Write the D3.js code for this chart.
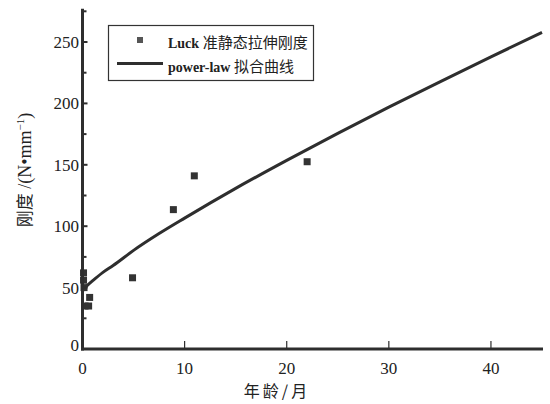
<!DOCTYPE html>
<html>
<head>
<meta charset="utf-8">
<script src="https://cdn.jsdelivr.net/npm/d3@7"></script>
<style>
  html, body { margin: 0; padding: 0; background: #fff; }
  svg { display: block; }
</style>
</head>
<body>
<svg id="chart" width="550" height="404"></svg>
<script>
// Luck quasi-static tensile stiffness measurements (age in months, stiffness in N/mm)
const ageMonths = [0.1, 0.1, 0.15, 0.25, 0.6, 0.7, 4.9, 8.9, 10.95, 22.0];
const stiffness = [62, 56, 50, 35, 35, 42, 58, 113.5, 141, 152.5];

// power-law fitted curve, sampled along the age axis
const fitAge = [0, 0.25, 0.5, 1, 2, 3, 5, 7.5, 10, 15, 20, 25, 30, 35, 40, 45];
const fitStiffness = [47, 50, 52, 55.6, 62.4, 68, 80.3, 94, 106.6, 130.8, 153.6, 175.6, 196.9, 217.6, 237.9, 257.8];

const xTicks = [0, 10, 20, 30, 40];
const yTicks = [0, 50, 100, 150, 200, 250];
const yMinorTicks = [25, 75, 125, 175, 225, 275];

const legendLabels = [
  { latin: "Luck", cjk: "准静态拉伸刚度" },
  { latin: "power-law", cjk: "拟合曲线" }
];
const xTitle = "年龄/月";
const yTitleCjk = "刚度";
const yTitleUnit = " /(N•mm";
const yTitleExp = "−1";

const ink = "#2e2e2e";
const serif = "'Liberation Serif', 'DejaVu Serif', serif";
const cjk = "'Noto Sans CJK SC', sans-serif";

const svg = d3.select("#chart");

const x = d3.scaleLinear().domain([0, 45]).range([82.5, 542]);
const y = d3.scaleLinear().domain([0, 250]).range([349, 42]);

// fitted curve
const line = d3.line()
  .x((d, i) => x(fitAge[i]))
  .y(d => y(d))
  .curve(d3.curveMonotoneX);
svg.append("path")
  .datum(fitStiffness)
  .attr("d", line)
  .attr("fill", "none")
  .attr("stroke", ink).attr("stroke-width", 3);

// measured points
const sq = 7;
svg.selectAll(".pt").data(stiffness).enter().append("rect")
  .attr("x", (d, i) => x(ageMonths[i]) - sq / 2)
  .attr("y", d => y(d) - sq / 2)
  .attr("width", sq).attr("height", sq)
  .attr("fill", "#333");

// axis lines
svg.append("line")
  .attr("x1", x(0)).attr("x2", x(0))
  .attr("y1", y(0) + 1.5).attr("y2", y(277))
  .attr("stroke", ink).attr("stroke-width", 3);
svg.append("line")
  .attr("x1", x(0) - 1.5).attr("x2", x(45) + 1)
  .attr("y1", y(0)).attr("y2", y(0))
  .attr("stroke", ink).attr("stroke-width", 3);

// y ticks point into the plot
svg.selectAll(".ytick").data(yTicks.filter(d => d > 0)).enter().append("line")
  .attr("x1", x(0)).attr("x2", x(0) + 5)
  .attr("y1", d => y(d)).attr("y2", d => y(d))
  .attr("stroke", ink).attr("stroke-width", 2);
svg.selectAll(".yminor").data(yMinorTicks).enter().append("line")
  .attr("x1", x(0)).attr("x2", x(0) + 4)
  .attr("y1", d => y(d)).attr("y2", d => y(d))
  .attr("stroke", ink).attr("stroke-width", 2);

// x ticks point up into the plot
svg.selectAll(".xtick").data(xTicks.filter(d => d > 0)).enter().append("line")
  .attr("x1", d => x(d)).attr("x2", d => x(d))
  .attr("y1", y(0)).attr("y2", y(0) - 8)
  .attr("stroke", ink).attr("stroke-width", 1.2);

// tick labels
svg.selectAll(".ylab").data(yTicks).enter().append("text")
  .attr("x", 79).attr("y", d => y(d) + (d === 0 ? 2 : 6))
  .attr("text-anchor", "end")
  .attr("font-family", serif).attr("font-size", 17).attr("fill", "#222")
  .text(d => d);
svg.selectAll(".xlab").data(xTicks).enter().append("text")
  .attr("x", d => x(d)).attr("y", 374)
  .attr("text-anchor", "middle")
  .attr("font-family", serif).attr("font-size", 17).attr("fill", "#222")
  .text(d => d);

// axis titles
svg.append("text")
  .attr("x", 277).attr("y", 397)
  .attr("text-anchor", "middle")
  .attr("font-family", cjk).attr("font-size", 16).attr("fill", "#222")
  .attr("letter-spacing", 3)
  .text(xTitle);
const yt = svg.append("text")
  .attr("transform", "translate(31,170) rotate(-90)")
  .attr("text-anchor", "middle")
  .attr("fill", "#222");
yt.append("tspan").attr("font-family", cjk).attr("font-size", 17).text(yTitleCjk);
yt.append("tspan").attr("font-family", serif).attr("font-size", 18).text(yTitleUnit);
yt.append("tspan").attr("font-family", serif).attr("font-size", 11).attr("dy", -7).text(yTitleExp);
yt.append("tspan").attr("font-family", serif).attr("font-size", 18).attr("dy", 7).text(")");

// legend
const lg = svg.append("g");
lg.append("rect")
  .attr("x", 108.5).attr("y", 25.5).attr("width", 205).attr("height", 55)
  .attr("fill", "#fff").attr("stroke", "#333").attr("stroke-width", 1.2);
lg.append("rect")
  .attr("x", 137).attr("y", 37).attr("width", 6).attr("height", 6)
  .attr("fill", "#555");
lg.append("line")
  .attr("x1", 117).attr("x2", 163).attr("y1", 63.5).attr("y2", 63.5)
  .attr("stroke", ink).attr("stroke-width", 3);
const rowsY = [48, 72];
legendLabels.forEach((l, i) => {
  const t = lg.append("text").attr("x", 168).attr("y", rowsY[i]).attr("fill", "#222");
  t.append("tspan").attr("font-family", serif).attr("font-weight", "bold").attr("font-size", 14).text(l.latin + " ");
  t.append("tspan").attr("font-family", cjk).attr("font-size", 15).text(l.cjk);
});
</script>
</body>
</html>
